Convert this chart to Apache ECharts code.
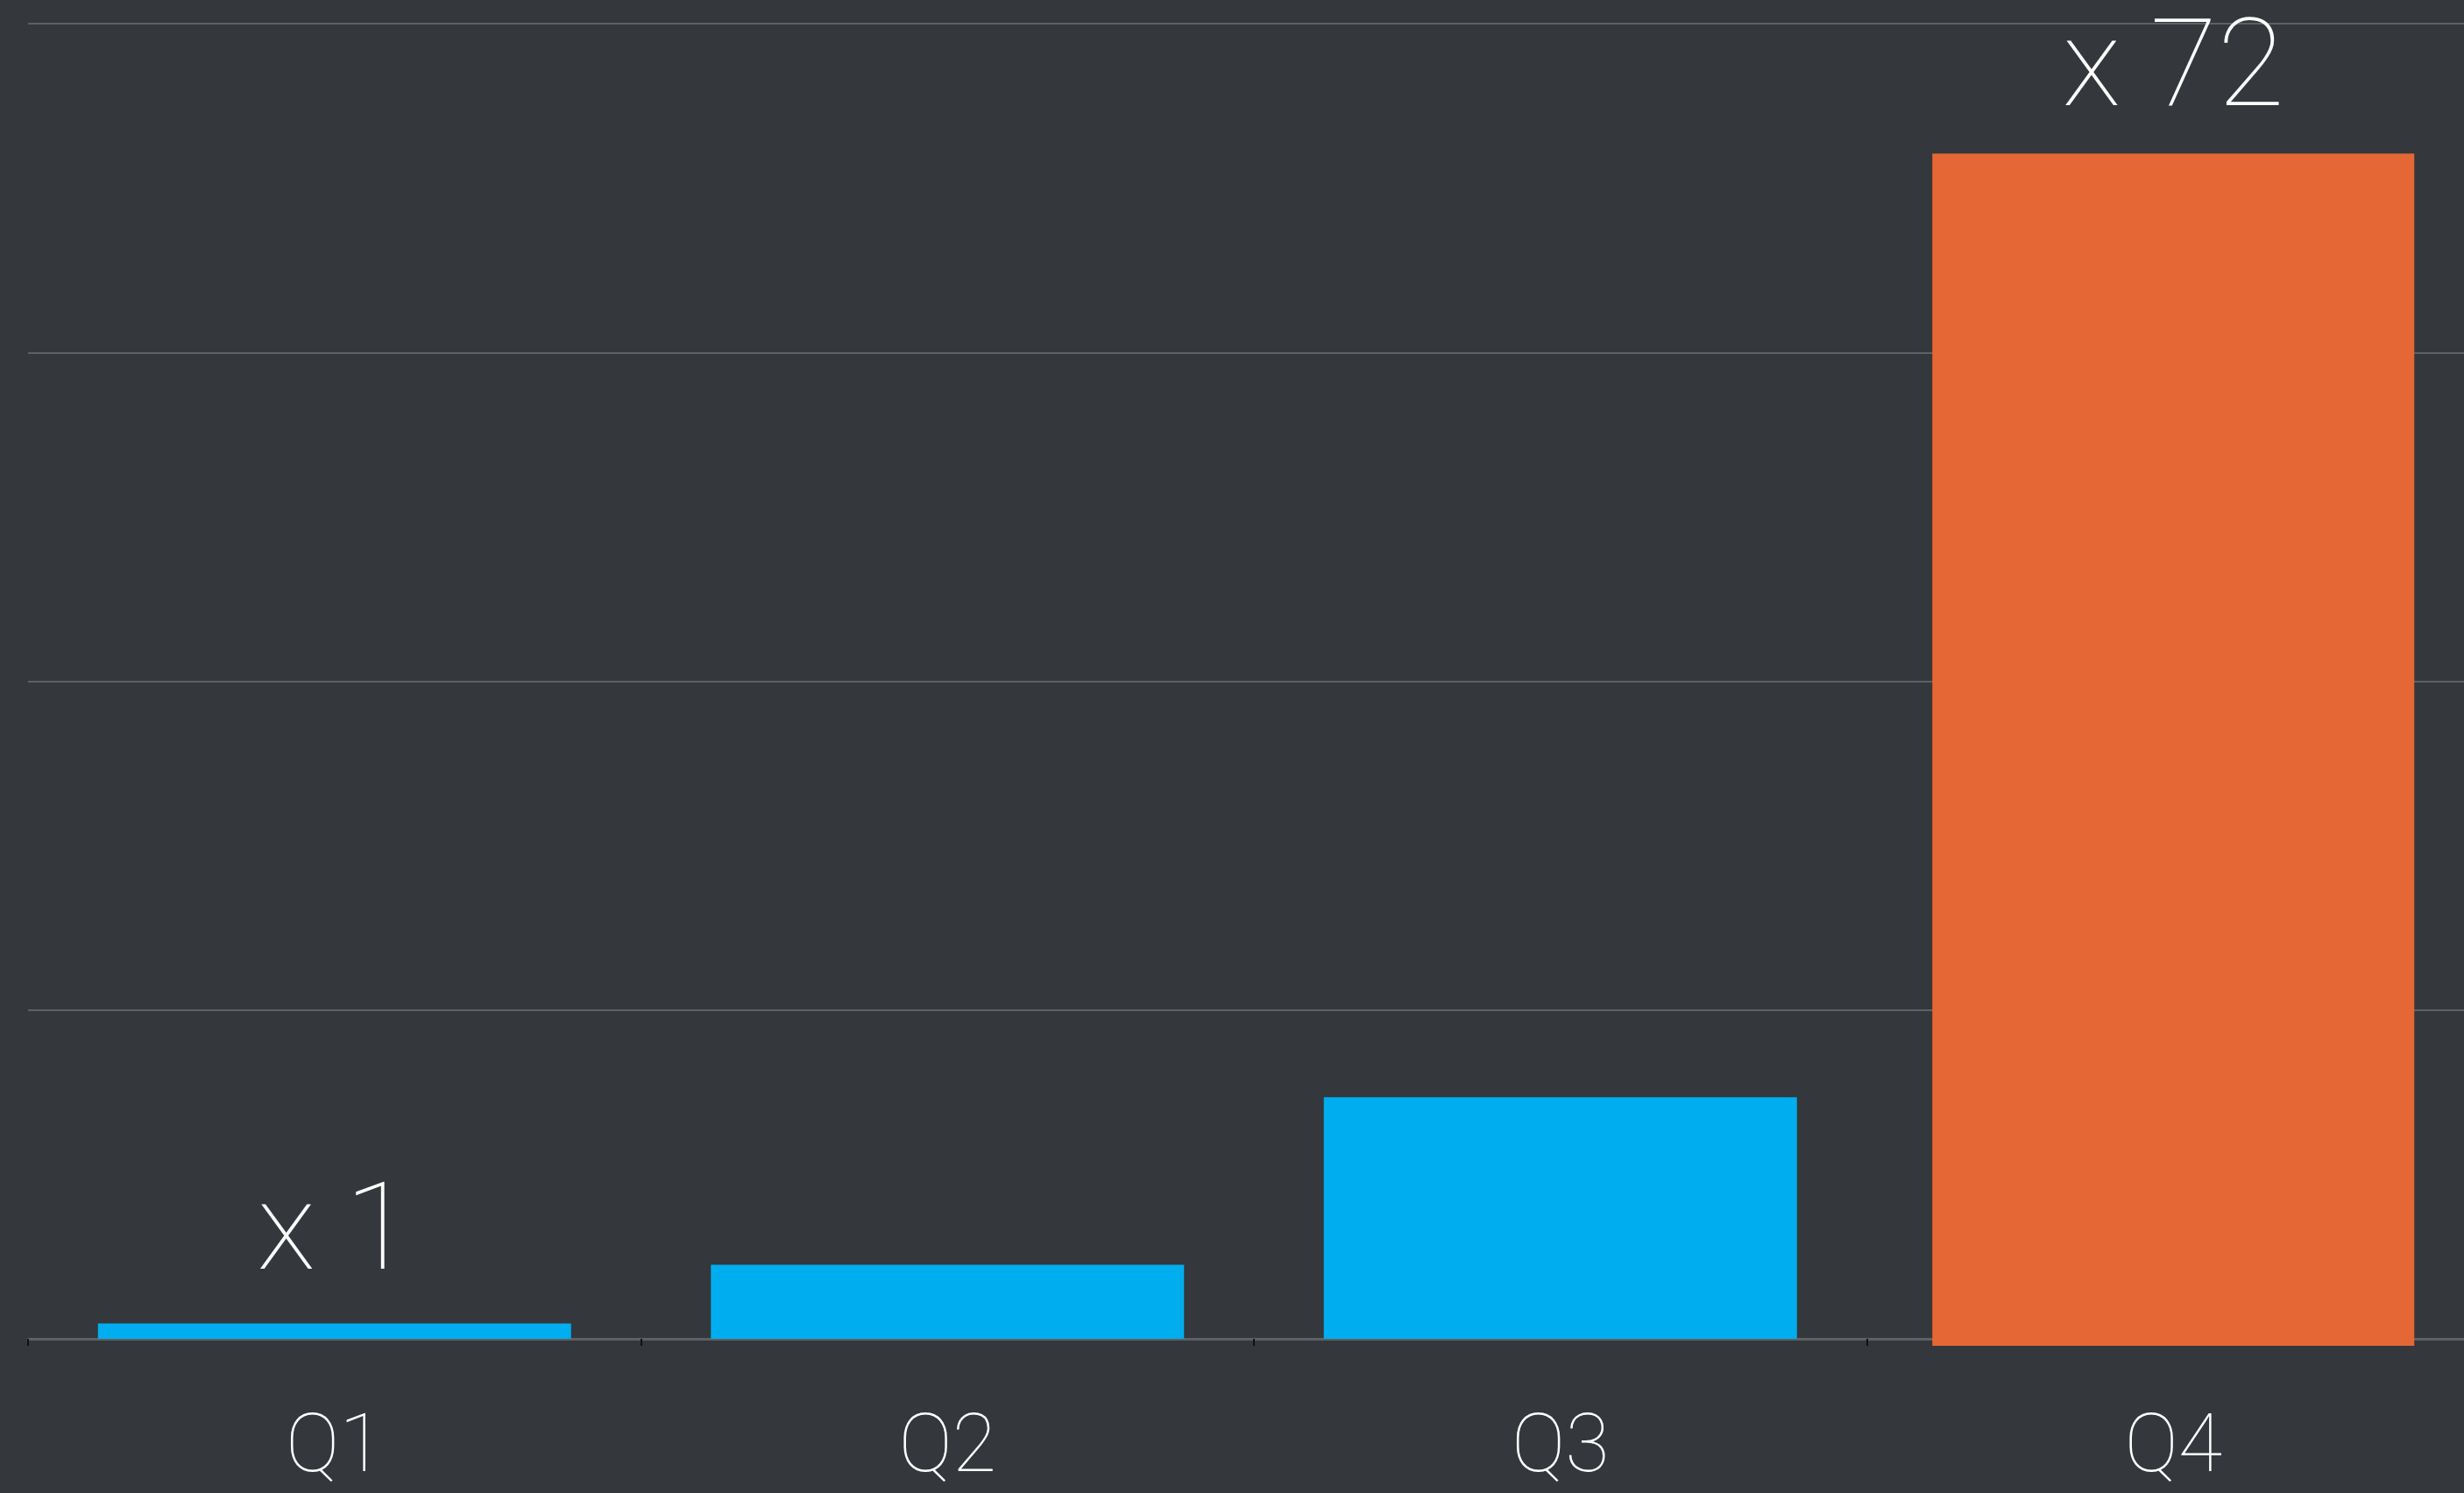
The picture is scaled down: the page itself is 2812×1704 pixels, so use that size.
<!DOCTYPE html>
<html>
<head>
    <meta charset="utf-8">
    <title>Q1-Q4</title>
    <script src="https://cdn.jsdelivr.net/npm/echarts@6/dist/echarts.min.js"></script>
    <style>
        html, body { margin: 0; padding: 0; background: #34373b; overflow: hidden; }
    </style>
</head>
<body>
    <!-- a bit wider than the window: the plot runs past the right edge -->
    <div id="main" style="width: 2830px;height:1704px;"></div>
    <script>
        // data
        var quarters = ['Q1', 'Q2', 'Q3', 'Q4'];
        var blueValues = [0.93, 4.5, 14.7, '-'];
        var orangeValues = ['-', '-', '-', 72];
        var blueLabels = ['x 1', '', '', ''];
        var orangeLabels = ['', '', '', 'x 72'];

        var myChart = echarts.init(document.getElementById('main'));

        var labelFont = {
            color: '#fff',
            fontFamily: 'Roboto',
            fontWeight: 100,
            fontSize: 140
        };

        var option = {
            backgroundColor: '#34373b',
            animation: false,
            // second grid: the orange bar is drawn a little bigger than the others
            grid: [
                { left: 32, right: 0, top: 27, bottom: 176 },
                { left: 32, right: 0, top: 24, bottom: 168 }
            ],
            xAxis: [{
                type: 'category',
                gridIndex: 0,
                data: quarters,
                axisLine: { lineStyle: { color: '#5e6164', width: 3 } },
                axisTick: { show: true, length: 8, lineStyle: { color: '#111', width: 2 } },
                axisLabel: {
                    color: '#fff',
                    fontFamily: 'Roboto',
                    fontWeight: 100,
                    fontSize: 92,
                    margin: 82
                }
            }, {
                type: 'category',
                gridIndex: 1,
                data: quarters,
                show: false
            }],
            yAxis: [{
                type: 'value',
                gridIndex: 0,
                min: 0,
                max: 80,
                interval: 20,
                axisLabel: { show: false },
                axisLine: { show: false },
                axisTick: { show: false },
                splitLine: { lineStyle: { color: '#5e6164', width: 2 } }
            }, {
                type: 'value',
                gridIndex: 1,
                min: 0,
                max: 80,
                show: false,
                splitLine: { show: false }
            }],
            series: [{
                type: 'bar',
                xAxisIndex: 0,
                yAxisIndex: 0,
                data: blueValues,
                barWidth: 540,
                itemStyle: { color: '#00aeef' },
                label: Object.assign({
                    show: true,
                    position: 'top',
                    distance: 28,
                    formatter: function (p) { return blueLabels[p.dataIndex]; }
                }, labelFont)
            }, {
                type: 'bar',
                xAxisIndex: 1,
                yAxisIndex: 1,
                data: orangeValues,
                barWidth: 550,
                z: 3,
                itemStyle: { color: '#e56735' },
                label: Object.assign({
                    show: true,
                    position: 'top',
                    distance: 20,
                    formatter: function (p) { return orangeLabels[p.dataIndex]; }
                }, labelFont)
            }]
        };

        myChart.setOption(option);
    </script>
</body>
</html>
